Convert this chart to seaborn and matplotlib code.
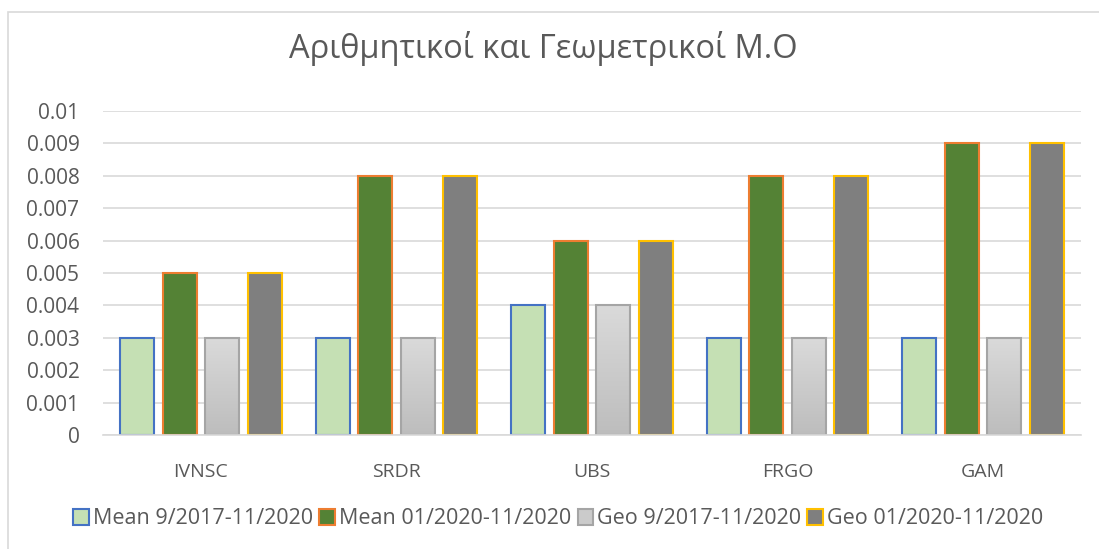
import matplotlib
matplotlib.use("Agg")
import matplotlib.pyplot as plt
import seaborn as sns
import pandas as pd
import numpy as np
from matplotlib.patches import Rectangle, Patch
from matplotlib.colors import LinearSegmentedColormap

categories = ["IVNSC", "SRDR", "UBS", "FRGO", "GAM"]
series_names = ["Mean 9/2017-11/2020", "Mean 01/2020-11/2020",
                "Geo 9/2017-11/2020", "Geo 01/2020-11/2020"]
mean_long = [0.003, 0.003, 0.004, 0.003, 0.003]
mean_short = [0.005, 0.008, 0.006, 0.008, 0.009]
geo_long = [0.003, 0.003, 0.004, 0.003, 0.003]
geo_short = [0.005, 0.008, 0.006, 0.008, 0.009]
yticks = [0, 0.001, 0.002, 0.003, 0.004, 0.005, 0.006, 0.007, 0.008, 0.009, 0.01]
ytick_labels = ["0", "0.001", "0.002", "0.003", "0.004", "0.005", "0.006",
                "0.007", "0.008", "0.009", "0.01"]
title = "Αριθμητικοί και Γεωμετρικοί Μ.Ο"

fills = ["#C5E0B4", "#548235", "#CBCBCB", "#7F7F7F"]
edges = ["#4472C4", "#ED7D31", "#A5A5A5", "#FFC000"]

rows = []
for name, vals in zip(series_names, [mean_long, mean_short, geo_long, geo_short]):
    for c, v in zip(categories, vals):
        rows.append({"cat": c, "series": name, "value": v})
df = pd.DataFrame(rows)

sns.set_theme(style="white")
plt.rcParams["font.family"] = ["Open Sans", "DejaVu Sans"]
text_color = "#595959"

fig = plt.figure(figsize=(10.99, 5.49), dpi=100)
ax = fig.add_axes([103/1099, 1-435/549, (1081-103)/1099, (435-111)/549])

sns.barplot(data=df, x="cat", y="value", hue="series", order=categories,
            hue_order=series_names, palette=dict(zip(series_names, fills)),
            width=0.87, gap=0.2, ax=ax, legend=False, saturation=1)

for cont, ec in zip(ax.containers, edges):
    for p in cont:
        p.set_edgecolor(ec)
        p.set_linewidth(1.5)

# gradient for gray series (light at top, darker at bottom)
grad = np.linspace(0, 1, 100).reshape(-1, 1)
cmap = LinearSegmentedColormap.from_list("g", ["#DADADA", "#BDBDBD"])
for p in ax.containers[2]:
    x0, y0 = p.get_x(), p.get_y()
    w, h = p.get_width(), p.get_height()
    im = ax.imshow(grad, cmap=cmap, extent=[x0, x0 + w, y0, y0 + h],
                   origin="upper", aspect="auto", zorder=p.get_zorder() - 0.01)
    im.set_clip_path(p)
    p.set_facecolor("none")

ax.set_xlim(-0.5, 4.5)
ax.set_ylim(0, 0.01)
ax.set_yticks(yticks)
ax.set_yticklabels(ytick_labels)
ax.set_xlabel("")
ax.set_ylabel("")
ax.yaxis.grid(True, color="#D9D9D9", linewidth=1.2)
ax.set_axisbelow(True)
for s in ["left", "right", "top"]:
    ax.spines[s].set_visible(False)
ax.spines["bottom"].set_color("#D9D9D9")
ax.spines["bottom"].set_linewidth(1.2)
ax.tick_params(axis="y", length=0, pad=17, labelsize=15, labelcolor=text_color)
ax.tick_params(axis="x", length=0, pad=20, labelsize=14, labelcolor=text_color)

fig.text(0.494, 1-48/549, title, ha="center", va="center", fontsize=23.5,
         color=text_color)

handles = [Patch(facecolor=f, edgecolor=e, linewidth=1.5) for f, e in zip(fills, edges)]
fig.legend(handles, series_names, loc="center", bbox_to_anchor=(0.508, 1-519/549),
           ncol=4, frameon=False, fontsize=15.5, handlelength=0.7, handleheight=0.7,
           handletextpad=0.2, columnspacing=0.3, labelcolor=text_color)

fig.patches.append(Rectangle((8/1099, -0.1), 1.2, 1-12/549+0.1, transform=fig.transFigure,
                             fill=False, edgecolor="#D9D9D9", linewidth=1.2))

fig.savefig("out.png", dpi=100)
